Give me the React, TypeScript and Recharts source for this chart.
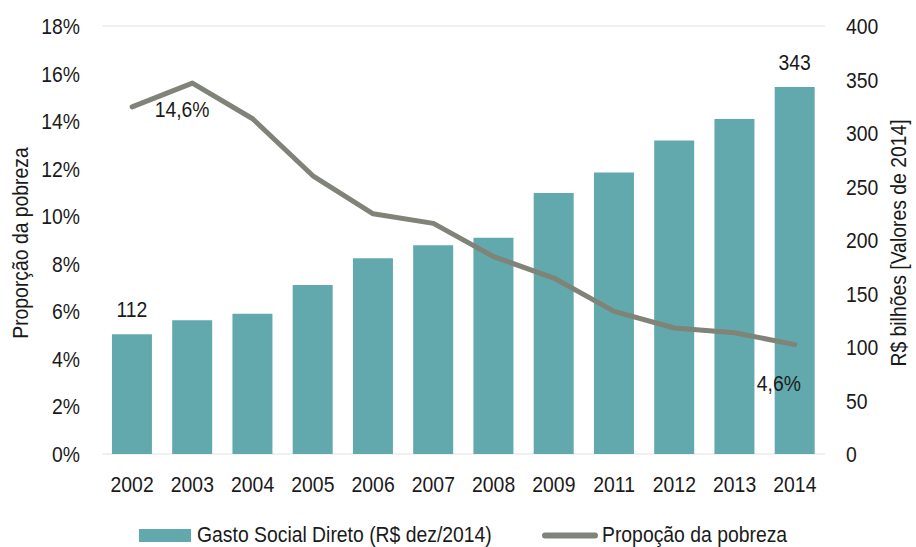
import {
  Bar,
  CartesianGrid,
  ComposedChart,
  LabelList,
  Legend,
  Line,
  XAxis,
  YAxis
} from 'recharts'

const years = ['2002', '2003', '2004', '2005', '2006', '2007', '2008', '2009', '2011', '2012', '2013', '2014']
const gastoSocial = [112, 125, 131, 158, 183, 195, 202, 244, 263, 293, 313, 343]
const pobreza = [14.6, 15.6, 14.1, 11.7, 10.1, 9.7, 8.3, 7.4, 6.0, 5.3, 5.1, 4.6]
const leftTicks = [0, 2, 4, 6, 8, 10, 12, 14, 16, 18]
const rightTicks = [0, 50, 100, 150, 200, 250, 300, 350, 400]

const data = years.map((year, i) => ({
  year,
  gasto: gastoSocial[i],
  pobreza: pobreza[i]
}))

const FONT = '"Liberation Sans", Arial, sans-serif'
const FS = 22
const NARROW = 0.88
const TEAL = '#62a9ae'
const GRAY = '#7f8378'
const TEXT = '#1a1a1a'

const fmtPct = (v: number) => v.toFixed(1).replace('.', ',') + '%'

// narrow-looking text: the reference uses a condensed face
function NText({ x, y, anchor = 'middle', angle = 0, children }: any) {
  return (
    <text
      transform={`translate(${x} ${y}) rotate(${angle}) scale(${NARROW} 1)`}
      x={0}
      y={0}
      textAnchor={anchor}
      fill={TEXT}
      fontSize={FS}
      fontFamily={FONT}
    >
      {children}
    </text>
  )
}

function XTick({ x, y, payload }: any) {
  return <NText x={x} y={492}>{payload.value}</NText>
}

function LeftTick({ y, payload }: any) {
  return <NText x={80} y={y + 8} anchor="end">{payload.value}%</NText>
}

function RightTick({ y, payload }: any) {
  return <NText x={846} y={y + 8} anchor="start">{payload.value}</NText>
}

function AxisTitle({ viewBox, value, side }: any) {
  const cy = viewBox.y + viewBox.height / 2
  const cx = side === 'left' ? 28 : 906
  return <NText x={cx} y={cy + 3} angle={-90}>{value}</NText>
}

function BarLabel({ x, y, width, value, index }: any) {
  if (index !== 0 && index !== years.length - 1) return null
  return <NText x={x + width / 2} y={y - 17}>{value}</NText>
}

function LineLabel({ x, y, value, index }: any) {
  if (index === 0) return <NText x={x + 50} y={y + 10}>{fmtPct(value)}</NText>
  if (index === years.length - 1) return <NText x={x - 16} y={y + 46}>{fmtPct(value)}</NText>
  return null
}

function ChartLegend() {
  // wrapper sits at page y = 497
  return (
    <svg width={916} height={50} style={{ display: 'block' }}>
      <rect x={139} y={32} width={52} height={13} fill={TEAL} />
      <NText x={197} y={44.5} anchor="start">Gasto Social Direto (R$ dez/2014)</NText>
      <line x1={545} y1={38.5} x2={595} y2={38.5} stroke={GRAY} strokeWidth={6} strokeLinecap="round" />
      <NText x={602} y={44.5} anchor="start">Propoção da pobreza</NText>
    </svg>
  )
}

export default function App() {
  return (
    <div style={{ position: 'fixed', left: 0, top: 0, width: 916, height: 547, background: '#fff' }}>
      <ComposedChart
        width={916}
        height={547}
        data={data}
        margin={{ top: 26, right: 0, bottom: 0, left: 0 }}
        barCategoryGap="16.5%"
      >
        <CartesianGrid vertical={false} stroke="#ebebeb" strokeWidth={1.5} />
        <XAxis
          dataKey="year"
          axisLine={false}
          tickLine={false}
          height={43}
          interval={0}
          tick={<XTick />}
        />
        <YAxis
          yAxisId="left"
          orientation="left"
          width={102}
          domain={[0, 18]}
          ticks={leftTicks}
          axisLine={false}
          tickLine={false}
          tick={<LeftTick />}
          label={<AxisTitle value="Proporção da pobreza" side="left" />}
        />
        <YAxis
          yAxisId="right"
          orientation="right"
          width={91}
          domain={[0, 400]}
          ticks={rightTicks}
          axisLine={false}
          tickLine={false}
          tick={<RightTick />}
          label={<AxisTitle value="R$ bilhões [Valores de 2014]" side="right" />}
        />
        <Legend verticalAlign="bottom" content={() => <ChartLegend />} />
        <Bar
          yAxisId="right"
          dataKey="gasto"
          name="Gasto Social Direto (R$ dez/2014)"
          fill={TEAL}
          isAnimationActive={false}
        >
          <LabelList dataKey="gasto" content={<BarLabel />} />
        </Bar>
        <Line
          yAxisId="left"
          dataKey="pobreza"
          name="Propoção da pobreza"
          stroke={GRAY}
          strokeWidth={5}
          strokeLinecap="round"
          strokeLinejoin="round"
          dot={false}
          type="linear"
          isAnimationActive={false}
        >
          <LabelList dataKey="pobreza" content={<LineLabel />} />
        </Line>
      </ComposedChart>
    </div>
  )
}
